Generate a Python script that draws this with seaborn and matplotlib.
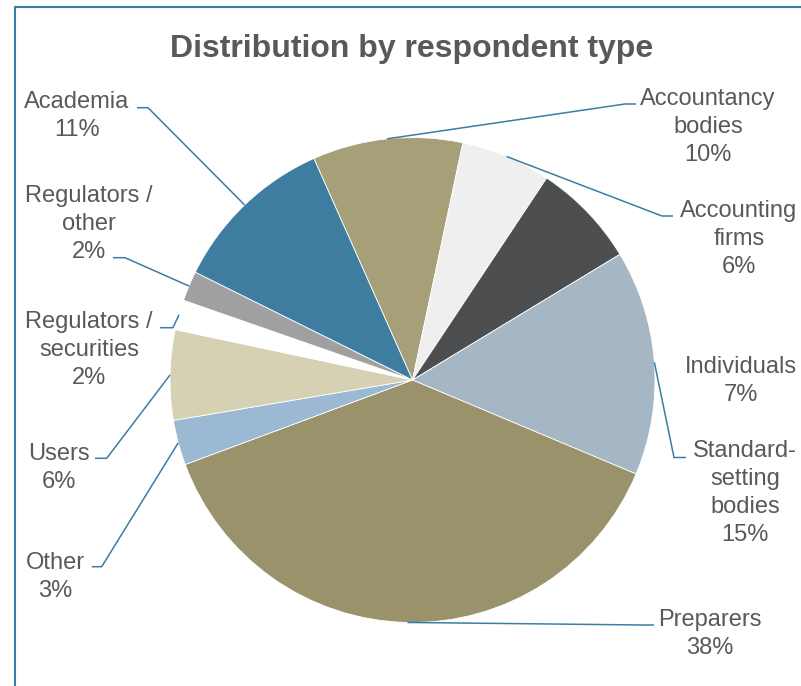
import numpy as np
import matplotlib
matplotlib.use("Agg")
import matplotlib.pyplot as plt
import seaborn as sns
from matplotlib.lines import Line2D

# ---------------- data ----------------
categories = ["Accountancy bodies", "Accounting firms", "Individuals",
              "Standard-setting bodies", "Preparers", "Other", "Users",
              "Regulators / securities", "Regulators / other", "Academia"]
label_names = ["Accountancy\nbodies", "Accounting\nfirms", "Individuals",
               "Standard-\nsetting\nbodies", "Preparers", "Other", "Users",
               "Regulators /\nsecurities", "Regulators /\nother", "Academia"]
shares = [10, 6, 7, 15, 38, 3, 6, 2, 2, 11]
title = "Distribution by respondent type"

# ---------------- style ----------------
slice_colors = ["#A69F78", "#EFEFEF", "#4D4E50", "#A5B6C5", "#9A926B",
                "#9BB9D2", "#D7D1B4", "#FFFFFF", "#A0A0A0", "#3E7CA0"]
line_color = "#3B7DA5"
text_color = "#595959"

# label layout in pixel coords (x, y from top): text centre, leader stub (outer, inner)
label_pos = [(708, 127), (739, 239), (741, 381), (745, 493), (710, 634),
             (55, 577), (59, 468), (89, 350), (89, 224), (77, 116)]
stubs = [((636, 104), (625, 104)), ((673, 216), (662, 216)), None,
         ((686, 457.5), (674, 457.5)), ((654, 625), (643, 625)),
         ((91.7, 566.7), (101.7, 566.7)), ((95, 458.3), (106.7, 458.3)),
         ((160, 327.7), (173, 327.7)), ((113, 257.7), (125, 257.7)),
         ((137, 107.7), (148, 107.7))]

W, H = 801, 686
sns.set_theme(style="white")
plt.rcParams['font.family'] = ['Liberation Sans', 'DejaVu Sans']

fig = plt.figure(figsize=(W / 100, H / 100), dpi=100)
fig.patch.set_facecolor("white")
ax = fig.add_axes([0, 0, 1, 1])

cx, cy, R = 412.5, H - 380, 242.5
palette = sns.color_palette(slice_colors)
wedges, _ = ax.pie(shares, colors=palette, startangle=114, counterclock=False,
                   center=(cx, cy), radius=R,
                   wedgeprops=dict(edgecolor="white", linewidth=0.6))
ax.set_xlim(0, W)
ax.set_ylim(0, H)
ax.axis("off")

for w, name, val, pos, stub in zip(wedges, label_names, shares, label_pos, stubs):
    ax.text(pos[0], H - pos[1], f"{name}\n{val}%", ha="center", va="center",
            fontsize=17, color=text_color, linespacing=1.36)
    if stub is not None:
        th = np.deg2rad((w.theta1 + w.theta2) / 2)
        ex, ey = cx + R * np.cos(th), cy + R * np.sin(th)
        (x0, y0), (x1, y1) = stub
        ax.plot([x0, x1, ex], [H - y0, H - y1, ey], color=line_color, lw=1.1,
                solid_capstyle="butt")

ax.text(411.5, H - 49, title, ha="center", va="center", fontsize=23,
        fontweight="bold", color=text_color)

# chart frame (partially visible)
fig.add_artist(Line2D([15.5 / W, 15.5 / W], [0, 1 - 7 / H], color=line_color, lw=1.5))
fig.add_artist(Line2D([15.5 / W, 1], [1 - 7 / H, 1 - 7 / H], color=line_color, lw=1.5))

fig.savefig("out.png", dpi=100)
